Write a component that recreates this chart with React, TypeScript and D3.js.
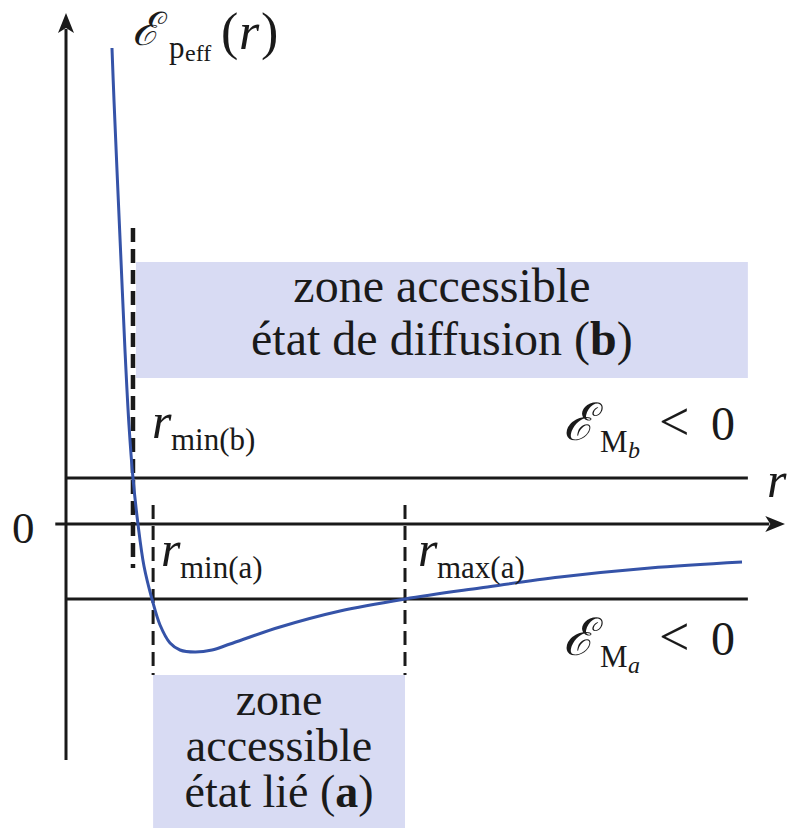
import React from "react";
import * as d3 from "d3";

// effective potential energy curve (r, E in arbitrary units)
const curveR = [6.44, 6.72, 7.14, 7.7, 8.26, 8.82, 9.38, 10.08, 10.92, 12.04, 13.17, 14.57, 15.97, 18.07, 20.45, 22.97, 29.97, 38.38, 47.48, 57.98, 69.19, 81.79, 94.68];
const curveE = [47.6, 42.4, 35.4, 26.4, 17.4, 9.9, 4.6, 0, -4.2, -7.5, -10.1, -11.9, -12.6, -12.8, -12.6, -12.0, -10.3, -8.7, -7.5, -6.4, -5.3, -4.4, -3.8];

// energy levels
const levelNames = ["b", "a"];
const levelE = [4.6, -7.5];
const levelEnd = 95.5;

// turning points
const turnNames = ["min(b)", "min(a)", "max(a)"];
const turnR = [9.38, 12.2, 47.48];
const turnTop = [29.6, 1.9, 1.9];
const turnBottom = [-4.4, -15.1, -15.1];

// accessible zones
const zoneR0 = [9.8, 12.2];
const zoneR1 = [95.5, 47.48];
const zoneE0 = [26.2, -15.1];
const zoneE1 = [14.6, -30.4];

export default function App() {
  const W = 795;
  const H = 830;
  const x = d3.scaleLinear().domain([0, 100]).range([66, 780]);
  const y = d3.scaleLinear().domain([-23.6, 51]).range([760, 14]);

  const pts = curveR.map((r, i) => [r, curveE[i]] as [number, number]);
  const line = d3
    .line<[number, number]>()
    .x((d) => x(d[0]))
    .y((d) => y(d[1]))
    .curve(d3.curveCatmullRom.alpha(0.5));

  const serif = "'Liberation Serif', 'Times New Roman', serif";
  const script = "'DejaVu Serif', serif";
  const ink = "#1a1a1a";
  const fill = "#d8dbf3";
  const big = 48;
  const sub = 31;
  const sub2 = 24;

  const zoneAx = (x(zoneR0[0]) + x(zoneR1[0])) / 2;
  const zoneBx = (x(zoneR0[1]) + x(zoneR1[1])) / 2;

  // "r" with a subscript
  const rLabel = (px: number, py: number, s: string, key: string) => (
    <g key={key}>
      <text x={px} y={py} fontSize={big + 2} fontStyle="italic">r</text>
      <text x={px + 19} y={py + 12} fontSize={sub}>{s}</text>
    </g>
  );

  const energyLabel = (px: number, py: number, s: string, key: string) => (
    <g key={key}>
      <text x={px} y={py} fontSize={big + 4} fontFamily={script} fontStyle="italic">ℰ</text>
      <text x={px + 37} y={py + 12} fontSize={sub}>M</text>
      <text x={px + 65} y={py + 18} fontSize={sub2} fontStyle="italic">{s}</text>
      <text x={px + 96} y={py} fontSize={big + 6}>{"<"}</text>
      <text x={px + 148} y={py} fontSize={big}>0</text>
    </g>
  );

  return (
    <svg width={W} height={H} style={{ position: "absolute", left: 0, top: 0 }} fontFamily={serif}>
      <defs>
        <marker id="arr" viewBox="0 0 20 20" refX="4" refY="10" markerWidth="20" markerHeight="20" markerUnits="userSpaceOnUse" orient="auto">
          <path d="M0,2 L20,10 L0,18 L5,10 Z" fill={ink} />
        </marker>
      </defs>

      {/* zones */}
      {zoneR0.map((r0, i) => (
        <rect
          key={i}
          x={x(r0)}
          y={y(zoneE0[i])}
          width={x(zoneR1[i]) - x(r0)}
          height={y(zoneE1[i]) - y(zoneE0[i])}
          fill={fill}
        />
      ))}

      {/* axes */}
      <line x1={x(0)} y1={y(-23.6)} x2={x(0)} y2={y(49.5)} stroke={ink} strokeWidth={3} markerEnd="url(#arr)" />
      <line x1={x(-1.5)} y1={y(0)} x2={x(98.5)} y2={y(0)} stroke={ink} strokeWidth={3} markerEnd="url(#arr)" />

      {/* energy levels */}
      {levelE.map((e, i) => (
        <line key={levelNames[i]} x1={x(0)} x2={x(levelEnd)} y1={y(e)} y2={y(e)} stroke={ink} strokeWidth={3.2} />
      ))}

      {/* turning points */}
      {turnR.map((r, i) => (
        <line
          key={turnNames[i]}
          x1={x(r)}
          x2={x(r)}
          y1={y(turnTop[i])}
          y2={y(turnBottom[i])}
          stroke={ink}
          strokeWidth={i === 0 ? 4.5 : 3}
          strokeDasharray="14 7"
        />
      ))}

      {/* potential */}
      <path d={line(pts) || ""} fill="none" stroke="#3553a8" strokeWidth={3} />

      {/* labels */}
      <g fill={ink}>
        <text x={132} y={45} fontSize={46} fontFamily={script} fontStyle="italic">ℰ</text>
        <text x={169} y={58} fontSize={sub}>p</text>
        <text x={185} y={61} fontSize={sub2}>eff</text>
        <text x={221} y={49} fontSize={big + 4}>(</text>
        <text x={239} y={49} fontSize={big + 4} fontStyle="italic">r</text>
        <text x={261} y={49} fontSize={big + 4}>)</text>

        <text x={12} y={543} fontSize={45}>0</text>
        <text x={767} y={497} fontSize={big + 2} fontStyle="italic">r</text>

        {rLabel(152, 438, turnNames[0], "rb")}
        {rLabel(161, 566, turnNames[1], "ra")}
        {rLabel(418, 566, turnNames[2], "rx")}

        {energyLabel(563, 440, levelNames[0], "eb")}
        {energyLabel(563, 655, levelNames[1], "ea")}

        <g textAnchor="middle">
          <text x={zoneAx} y={302} fontSize={big}>zone accessible</text>
          <text x={zoneAx} y={355} fontSize={big}>
            état de diffusion (<tspan fontWeight="bold">b</tspan>)
          </text>
          <text x={zoneBx} y={715} fontSize={46}>zone</text>
          <text x={zoneBx} y={761} fontSize={46}>accessible</text>
          <text x={zoneBx} y={807} fontSize={46}>
            état lié (<tspan fontWeight="bold">a</tspan>)
          </text>
        </g>
      </g>
    </svg>
  );
}
